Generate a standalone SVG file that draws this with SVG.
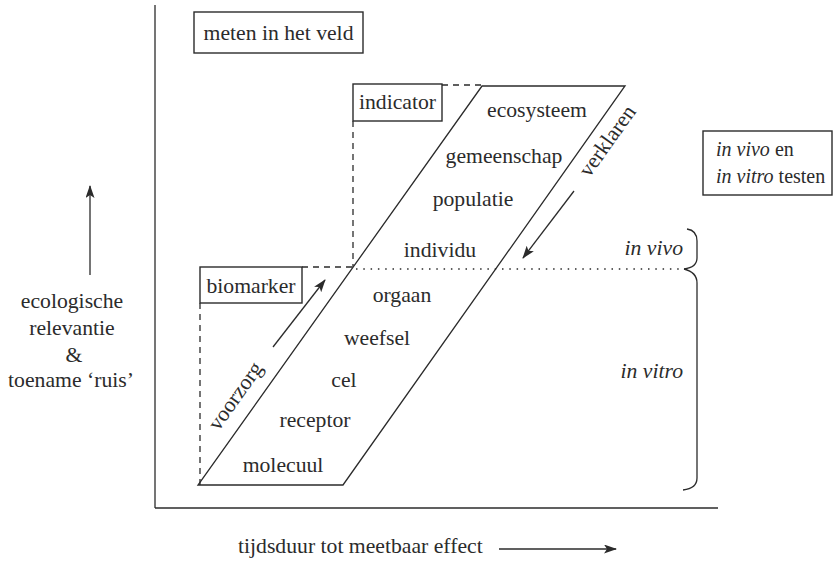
<svg xmlns="http://www.w3.org/2000/svg" width="838" height="561" viewBox="0 0 838 561" font-family="'Liberation Serif', 'DejaVu Serif', serif">
<style>
text{font-family:'Liberation Serif','DejaVu Serif',serif;font-size:21.7px;fill:#2b2b2b}
.m{text-anchor:middle}
.i{font-style:italic}
.ln{stroke:#2b2b2b;stroke-width:1.3;fill:none}
.box{stroke:#2b2b2b;stroke-width:1.4;fill:#fff}
.dash{stroke:#2b2b2b;stroke-width:1.3;fill:none;stroke-dasharray:6 5}
.dot{stroke:#2b2b2b;stroke-width:1.6;fill:none;stroke-dasharray:1.5 5.8}
</style>
<defs>
<marker id="ah" viewBox="0 0 13 9" refX="12" refY="4.5" markerWidth="13" markerHeight="9" markerUnits="userSpaceOnUse" orient="auto">
<path d="M0,0 L13,4.5 L0,9 L3,4.5 Z" fill="#2b2b2b"/>
</marker>
</defs>
<g id="axes">
<line class="ln" x1="155" y1="5" x2="155" y2="508"/>
<line class="ln" x1="155" y1="508" x2="718" y2="508"/>
</g>
<g id="connectors">
<line class="ln" x1="90" y1="275" x2="90" y2="186" marker-end="url(#ah)"/>
<line class="ln" x1="499" y1="549" x2="616" y2="549" marker-end="url(#ah)"/>
<line class="ln" x1="273" y1="347" x2="325" y2="280" marker-end="url(#ah)"/>
<line class="ln" x1="574" y1="191" x2="523" y2="258" marker-end="url(#ah)"/>
<line class="dash" x1="442" y1="85" x2="482" y2="85"/>
<line class="dash" x1="353" y1="121" x2="353" y2="267"/>
<line class="dash" x1="302" y1="267" x2="352" y2="267"/>
<line class="dash" x1="200" y1="303" x2="200" y2="485"/>
<line class="dot" x1="356" y1="269" x2="682" y2="269"/>
<path class="ln" d="M687,229 C694,230 697,234 697,241 L697,258 C697,264 692,268 684,269"/>
<path class="ln" d="M684,269 C692,271 697,276 697,283 L697,478 C697,485 692,489 683,490"/>
</g>
<g id="parallelogram">
<polygon class="ln" points="198,485 343,485 625,86 482,86"/>
</g>
<g id="levels">
<text class="m" x="537" y="117">ecosysteem</text>
<text class="m" x="504" y="163">gemeenschap</text>
<text class="m" x="473" y="206">populatie</text>
<text class="m" x="440" y="257">individu</text>
<text class="m" x="402" y="302">orgaan</text>
<text class="m" x="377" y="345">weefsel</text>
<text class="m" x="344" y="387">cel</text>
<text class="m" x="315" y="427">receptor</text>
<text class="m" x="283" y="472">molecuul</text>
</g>
<g id="voorzorg">
<text class="m" transform="translate(241,400) rotate(-54.56)">voorzorg</text>
</g>
<g id="verklaren">
<text class="m" transform="translate(613,145) rotate(-54.56)">verklaren</text>
</g>
<g id="meten">
<rect class="box" x="194" y="12" width="169" height="41"/>
<text class="m" x="278.5" y="40">meten in het veld</text>
</g>
<g id="indicator">
<rect class="box" x="353" y="84" width="89" height="37"/>
<text class="m" x="397.5" y="109">indicator</text>
</g>
<g id="biomarker">
<rect class="box" x="200" y="267" width="102" height="36"/>
<text class="m" x="251" y="293">biomarker</text>
</g>
<g id="testen">
<rect class="box" x="703" y="131" width="129" height="64"/>
<text x="716" y="156" style="font-size:20px"><tspan class="i">in vivo</tspan> en</text>
<text x="716" y="183" style="font-size:20px"><tspan class="i">in vitro</tspan> testen</text>
</g>
<g id="invivo">
<text class="i" x="683" y="255" text-anchor="end">in vivo</text>
</g>
<g id="invitro">
<text class="i" x="683" y="378" text-anchor="end">in vitro</text>
</g>
<g id="yaxis-label">
<text class="m" x="72" y="308">ecologische</text>
<text class="m" x="72" y="335">relevantie</text>
<text class="m" x="74" y="362">&amp;</text>
<text class="m" x="71" y="387">toename ‘ruis’</text>
</g>
<g id="xaxis-label">
<text x="238" y="553">tijdsduur tot meetbaar effect</text>
</g>
</svg>
